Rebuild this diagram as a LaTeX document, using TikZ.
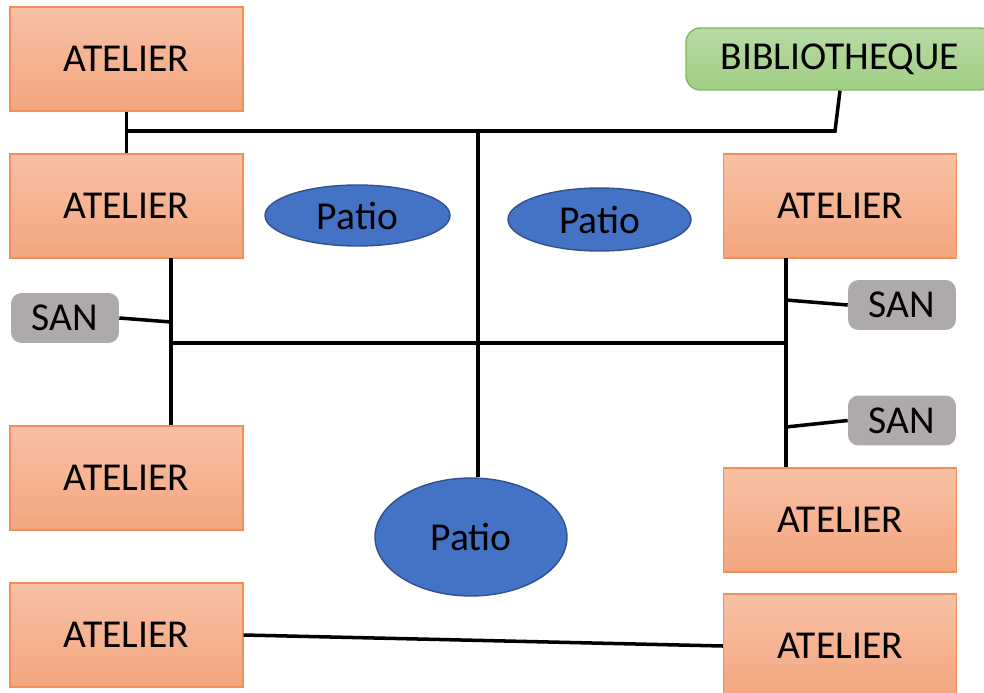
\documentclass[tikz,border=0pt]{standalone}
\usepackage{fontspec}
\setmainfont{Carlito}
\usetikzlibrary{shapes.geometric}
\definecolor{ateltop}{RGB}{248,193,165}
\definecolor{atelbot}{RGB}{244,165,126}
\definecolor{atelrim}{RGB}{241,143,88}
\definecolor{bibtop}{RGB}{184,219,164}
\definecolor{bibbot}{RGB}{160,206,132}
\definecolor{bibrim}{RGB}{128,184,92}
\definecolor{sangray}{RGB}{174,170,170}
\definecolor{patioblue}{RGB}{68,114,196}
\definecolor{patiorim}{RGB}{47,82,143}
\tikzset{
  lbl/.style={font=\fontsize{22.5}{26}\selectfont, text=black},
  atelier/.style={lbl, draw=atelrim, line width=0.8pt, top color=ateltop, bottom color=atelbot,
    minimum width=4.66cm, minimum height=2.08cm, inner sep=0pt},
  biblio/.style={lbl, draw=bibrim, line width=0.8pt, top color=bibtop, bottom color=bibbot,
    rounded corners=8pt, minimum width=6.16cm, minimum height=1.24cm, inner sep=0pt},
  san/.style={lbl, fill=sangray, rounded corners=6pt, minimum width=2.16cm, minimum height=1cm, inner sep=0pt},
  patio/.style={lbl, ellipse, draw=patiorim, line width=0.8pt, fill=patioblue, inner sep=0pt},
  wire/.style={line width=2pt, black}
}
\begin{document}
\begin{tikzpicture}[x=0.02cm, y=-0.02cm]
  \useasboundingbox (0,0) rectangle (984,693);

  \node[atelier] (a1) at (126.5,59) {ATELIER};
  \node[atelier] (a2) at (126.5,206) {ATELIER};
  \node[atelier] (a3) at (126.5,478) {ATELIER};
  \node[atelier] (a4) at (126.5,635) {ATELIER};
  \node[atelier] (a5) at (840,206) {ATELIER};
  \node[atelier] (a6) at (840,520) {ATELIER};
  \node[atelier] (a7) at (840,646) {ATELIER};
  \node[biblio] (bib) at (840,59) {BIBLIOTHEQUE};

  \node[san] (sanL) at (65,318) {SAN};
  \node[san] (sanR1) at (902,305) {SAN};
  \node[san] (sanR2) at (902,420.5) {SAN};

  \node[patio, minimum width=3.7cm, minimum height=1.22cm] (p1) at (357.5,215.5) {Patio};
  \node[patio, minimum width=3.66cm, minimum height=1.26cm] (p2) at (599.5,219.5) {Patio};
  \node[patio, minimum width=3.84cm, minimum height=2.36cm] (p3) at (471,537) {Patio};

  \coordinate (topL) at (127,131);
  \coordinate (topR) at (835,131);
  \coordinate (trunk) at (478,131);
  \coordinate (lv) at (171,258);
  \coordinate (midL) at (171,343);
  \coordinate (rv) at (786,258);
  \coordinate (midR) at (786,343);

  \draw[wire] (a1.south) -- (a2.north);
  \draw[wire] (topL) -- (topR) -- (bib.south);
  \draw[wire] (trunk) -- (trunk |- p3.north);
  \draw[wire] (lv) -- (lv |- a3.north);
  \draw[wire] (sanL.east) -- (171,322);
  \draw[wire] (midL) -- (midR);
  \draw[wire] (rv) -- (rv |- a6.north);
  \draw[wire] (786,300) -- (sanR1.west);
  \draw[wire] (786,427) -- (sanR2.west);
  \draw[wire] (a4.east) -- (a7.west);
\end{tikzpicture}
\end{document}
